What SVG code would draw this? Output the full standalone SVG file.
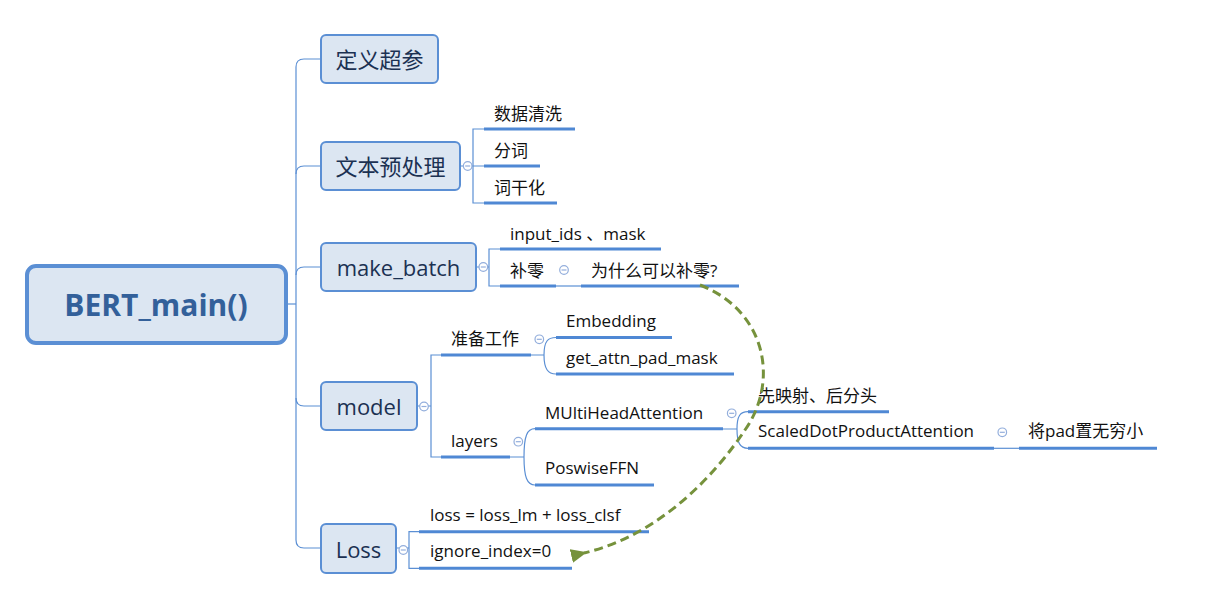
<svg xmlns="http://www.w3.org/2000/svg" width="1212" height="598" viewBox="0 0 1212 598">
<style>
.bg{fill:#ffffff}
.node rect{fill:#dce6f2;stroke:#5b8fd4;stroke-width:2}
.root rect{fill:#dce6f2;stroke:#5b8fd4;stroke-width:4}
.nt{font-family:"Open Sans","Noto Sans CJK SC",sans-serif;font-size:22px;fill:#1b3152;text-anchor:middle;dominant-baseline:central}
.rt{font-family:"Open Sans","Noto Sans CJK SC",sans-serif;font-size:30px;font-weight:bold;fill:#33609a;text-anchor:middle;dominant-baseline:central}
.lt{font-family:"Open Sans","Noto Sans CJK SC",sans-serif;font-size:17px;fill:#111111}
.ul{stroke:#4f88d4;stroke-width:3;fill:none}
.cn{stroke:#5b8fd4;stroke-width:1.2;fill:none}
.cc{fill:#ffffff;stroke:#93aedc;stroke-width:1.2}
.cm{stroke:#93aedc;stroke-width:1.2}
.dash{stroke:#76923c;stroke-width:3;fill:none;stroke-dasharray:9,5}
</style>
<defs>
<marker id="arr" markerWidth="16" markerHeight="16" refX="3" refY="8" orient="auto" markerUnits="userSpaceOnUse">
<path d="M16,1 L0,8 L16,15 Z" fill="#76923c"/>
</marker>
<g id="col"><circle class="cc" r="4.3"/><line class="cm" x1="-2.5" y1="0" x2="2.5" y2="0"/></g>
</defs>
<rect class="bg" width="1212" height="598"/>

<g id="connectors">
<path class="cn" d="M286,304 H296"/>
<path class="cn" d="M321,59 H304 Q296,59 296,67 V540 Q296,548 304,548 H321"/>
<path class="cn" d="M296,174 Q296,166 304,166 H321"/>
<path class="cn" d="M296,275 Q296,267 304,267 H321"/>
<path class="cn" d="M296,398 Q296,406 304,406 H321"/>
<path class="cn" d="M460,166 H484 M484,129 H473 V203 H484"/>
<path class="cn" d="M476,267 H489 M500,249 H489 V286 H500"/>
<path class="cn" d="M556,286 H581"/>
<path class="cn" d="M417,406 H431 M441,355 H431 V457 H441"/>
<path class="cn" d="M531,355 H544 M544,355 C544,341 548,337.5 556,337.5 M544,355 C544,369 548,374 556,374"/>
<path class="cn" d="M510,457 H524 M524,457 C524,436 527,428.7 535,428.7 M524,457 C524,477 527,485 535,485"/>
<path class="cn" d="M723,429 H737 M737,429 C737,416 740,411.7 748,411.7 M737,429 C737,443 740,448.3 748,448.3"/>
<path class="cn" d="M994,448.3 H1019"/>
<path class="cn" d="M396,548 H409 M419,531.7 H409 V568.3 H419"/>
</g>

<g id="root" class="root">
<rect x="27" y="266" width="259" height="77" rx="9"/>
<text class="rt" x="156" y="304">BERT_main()</text>
</g>

<g id="n-params" class="node">
<rect x="321" y="35" width="117" height="48" rx="5"/>
<text class="nt" x="379.5" y="59">定义超参</text>
</g>

<g id="n-text" class="node">
<rect x="321" y="142" width="139" height="48" rx="5"/>
<text class="nt" x="390.5" y="166">文本预处理</text>
</g>
<use href="#col" x="467.7" y="166"/>
<g id="n-clean"><text class="lt" x="494" y="120">数据清洗</text><path class="ul" d="M484,129 H575"/></g>
<g id="n-seg"><text class="lt" x="494" y="157">分词</text><path class="ul" d="M484,166 H540"/></g>
<g id="n-stem"><text class="lt" x="494" y="194">词干化</text><path class="ul" d="M484,203 H557"/></g>

<g id="n-batch" class="node">
<rect x="321" y="243" width="155" height="48" rx="5"/>
<text class="nt" x="398.5" y="267">make_batch</text>
</g>
<use href="#col" x="483.3" y="267"/>
<g id="n-ids"><text class="lt" x="510" y="240">input_ids 、mask</text><path class="ul" d="M500,249 H661"/></g>
<g id="n-pad"><text class="lt" x="510" y="277">补零</text><path class="ul" d="M500,286 H556"/></g>
<use href="#col" x="564" y="270"/>
<g id="n-why"><text class="lt" x="591" y="277">为什么可以补零?</text><path class="ul" d="M581,286 H739"/></g>

<g id="n-model" class="node">
<rect x="321" y="382" width="96" height="48" rx="5"/>
<text class="nt" x="369" y="406">model</text>
</g>
<use href="#col" x="424" y="406.5"/>
<g id="n-prep"><text class="lt" x="451" y="345">准备工作</text><path class="ul" d="M441,355 H531"/></g>
<use href="#col" x="539.3" y="339.3"/>
<g id="n-emb"><text class="lt" x="566" y="327">Embedding</text><path class="ul" d="M556,337.5 H672"/></g>
<g id="n-mask"><text class="lt" x="566" y="364">get_attn_pad_mask</text><path class="ul" d="M556,374 H734"/></g>
<g id="n-layers"><text class="lt" x="451" y="447">layers</text><path class="ul" d="M441,457 H510"/></g>
<use href="#col" x="518.3" y="441.7"/>
<g id="n-mha"><text class="lt" x="545" y="419">MUltiHeadAttention</text><path class="ul" d="M535,428.7 H723"/></g>
<g id="n-ffn"><text class="lt" x="545" y="474">PoswiseFFN</text><path class="ul" d="M535,485 H654"/></g>
<use href="#col" x="731.7" y="413.3"/>
<g id="n-proj"><text class="lt" x="758" y="402">先映射、后分头</text><path class="ul" d="M748,411.7 H889"/></g>
<g id="n-sdpa"><text class="lt" x="758" y="437">ScaledDotProductAttention</text><path class="ul" d="M748,448.3 H994"/></g>
<use href="#col" x="1002.3" y="432.3"/>
<g id="n-inf"><text class="lt" x="1028" y="437">将pad置无穷小</text><path class="ul" d="M1019,448.3 H1157"/></g>

<g id="n-loss" class="node">
<rect x="321" y="524" width="75" height="49" rx="5"/>
<text class="nt" x="358.5" y="548.5">Loss</text>
</g>
<use href="#col" x="403.3" y="550"/>
<g id="n-lsum"><text class="lt" x="430" y="521">loss = loss_lm + loss_clsf</text><path class="ul" d="M419,531.7 H649"/></g>
<g id="n-ign"><text class="lt" x="430" y="557">ignore_index=0</text><path class="ul" d="M419,568.3 H572"/></g>

<g id="relation">
<path class="dash" marker-end="url(#arr)" d="M700,285 C765,310 780,380 745,430 C715,475 660,535 584,553"/>
</g>
</svg>
